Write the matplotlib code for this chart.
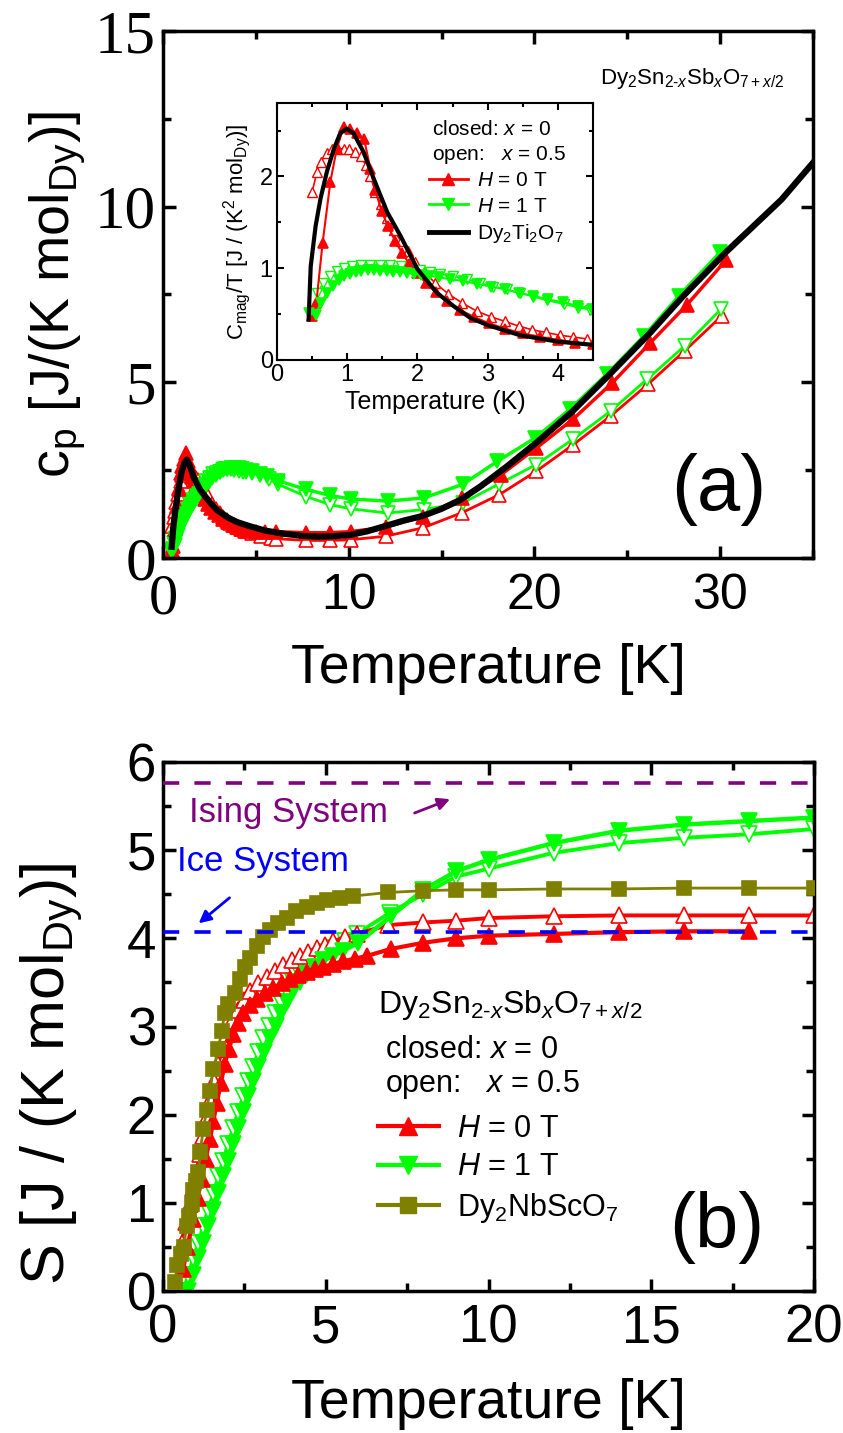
import matplotlib
matplotlib.use('Agg')
import matplotlib.pyplot as plt
from matplotlib.ticker import MultipleLocator
from matplotlib.lines import Line2D

plt.rcParams['font.family'] = 'Liberation Sans'
plt.rcParams['mathtext.fontset'] = 'custom'
plt.rcParams['mathtext.rm'] = 'Liberation Sans'
plt.rcParams['mathtext.it'] = 'Liberation Sans:italic'

RED = '#ff0000'
GREEN = '#00ff00'
OLIVE = '#808000'
PURPLE = '#800080'
BLUE = '#0000ff'

# ---------------- panel (a): c_p vs T ----------------
a_red_closed_T = [0.50, 0.56, 0.65, 0.76, 0.85, 0.95, 1.04, 1.14, 1.24, 1.33, 1.40, 1.49, 1.58, 1.68,
                  1.78, 1.88, 1.99, 2.12, 2.26, 2.42, 2.60, 2.80, 3.02, 3.25, 3.50, 3.75, 4.00, 4.25,
                  4.50, 5.00, 5.50, 6.10, 7.70, 9.00, 10.1, 12.0, 14.0, 16.1, 18.2, 20.1, 22.1, 24.2,
                  26.25, 28.2, 30.3]
a_red_closed_cp = [0.24, 0.35, 0.83, 1.47, 1.96, 2.41, 2.62, 2.82, 2.99, 2.77, 2.59, 2.41, 2.31, 2.18,
                   2.08, 1.97, 1.89, 1.78, 1.67, 1.55, 1.43, 1.32, 1.21, 1.10, 1.02, 0.94, 0.88, 0.82,
                   0.78, 0.75, 0.74, 0.75, 0.72, 0.72, 0.75, 0.88, 1.18, 1.72, 2.37, 3.13, 3.96, 4.99,
                   6.13, 7.20, 8.47]

a_red_open_T = [0.50, 0.57, 0.62, 0.71, 0.79, 0.87, 0.95, 1.03, 1.11, 1.19, 1.27, 1.33, 1.40, 1.48,
                1.57, 1.66, 1.76, 1.86, 1.97, 2.10, 2.25, 2.44, 2.64, 2.85, 3.05, 3.25, 3.44, 3.63,
                3.83, 4.03, 4.22, 4.41, 4.80, 5.30, 5.80, 6.10, 7.70, 9.00, 10.1, 12.0, 14.0, 16.1,
                18.1, 20.1, 22.1, 24.1, 26.1, 28.1, 30.1]
a_red_open_cp = [0.92, 1.17, 1.34, 1.60, 1.82, 2.00, 2.19, 2.37, 2.52, 2.64, 2.69, 2.66, 2.56, 2.52,
                 2.43, 2.36, 2.29, 2.21, 2.11, 2.02, 1.89, 1.76, 1.55, 1.40, 1.28, 1.17, 1.08, 1.00,
                 0.93, 0.87, 0.82, 0.78, 0.70, 0.62, 0.57, 0.55, 0.50, 0.50, 0.52, 0.62, 0.86, 1.29,
                 1.80, 2.47, 3.23, 4.04, 4.94, 5.90, 6.90]

a_green_closed_T = [0.45, 0.55, 0.62, 0.71, 0.80, 0.88, 0.96, 1.04, 1.12, 1.20, 1.29, 1.38, 1.47, 1.56,
                    1.65, 1.75, 1.85, 1.95, 2.05, 2.17, 2.31, 2.47, 2.65, 2.85, 3.05, 3.25, 3.45, 3.65,
                    3.86, 4.07, 4.28, 4.49, 4.80, 5.20, 5.60, 6.20, 7.70, 9.00, 10.1, 12.1, 14.05,
                    16.15, 18.0, 20.05, 21.9, 23.9, 25.9, 27.8, 30.0]
a_green_closed_cp = [0.23, 0.27, 0.38, 0.52, 0.65, 0.77, 0.87, 0.98, 1.08, 1.16, 1.26, 1.35, 1.43, 1.51,
                     1.60, 1.68, 1.76, 1.83, 1.91, 2.00, 2.08, 2.17, 2.28, 2.37, 2.44, 2.50, 2.52, 2.56,
                     2.55, 2.56, 2.53, 2.51, 2.47, 2.40, 2.32, 2.20, 1.95, 1.78, 1.68, 1.62, 1.71,
                     2.10, 2.75, 3.42, 4.23, 5.23, 6.32, 7.47, 8.70]

a_green_open_T = [0.57, 0.66, 0.76, 0.85, 0.95, 1.07, 1.19, 1.33, 1.47, 1.61, 1.76, 1.90, 2.04, 2.18,
                  2.32, 2.51, 2.70, 2.89, 3.08, 3.27, 3.46, 3.65, 3.84, 4.08, 4.29, 4.46, 4.80, 5.20,
                  5.70, 6.20, 7.70, 9.00, 10.1, 12.1, 14.05, 16.15, 18.1, 20.1, 22.1, 24.1, 26.07,
                  28.1, 30.06]
a_green_open_cp = [0.42, 0.55, 0.69, 0.82, 0.95, 1.09, 1.24, 1.38, 1.53, 1.66, 1.80, 1.90, 2.00, 2.09,
                   2.18, 2.28, 2.38, 2.43, 2.46, 2.52, 2.53, 2.52, 2.50, 2.49, 2.45, 2.45, 2.42, 2.36,
                   2.25, 2.10, 1.75, 1.52, 1.40, 1.28, 1.38, 1.57, 2.11, 2.66, 3.39, 4.18, 5.09,
                   6.04, 7.09]

a_dto_T = [0.47, 0.55, 0.65, 0.80, 1.00, 1.15, 1.28, 1.45, 1.65, 2.00, 2.50, 2.90, 3.50, 4.00, 4.70,
           5.50, 6.50, 7.50, 8.30, 9.20, 10.1, 11.0, 11.9, 13.0, 14.0, 15.0, 16.0, 17.1, 18.5, 20.1,
           22.0, 24.0, 26.25, 28.0, 30.3, 33.3, 35.0]
a_dto_cp = [0.32, 0.85, 1.30, 1.85, 2.45, 2.70, 2.80, 2.62, 2.30, 1.94, 1.60, 1.37, 1.15, 1.02, 0.90,
            0.78, 0.69, 0.63, 0.61, 0.62, 0.66, 0.76, 0.90, 1.07, 1.20, 1.40, 1.65, 2.04, 2.60, 3.28,
            4.15, 5.20, 6.42, 7.45, 8.70, 10.20, 11.25]

a_yticks = [0, 5, 10, 15]
a_ytick_labels = ['0', '5', '10', '15']
a_xticks = [0, 10, 20, 30]
a_xtick_labels = ['0', '10', '20', '30']

# ---------------- inset: C_mag/T vs T ----------------
in_red_closed_T = [0.50, 0.56, 0.65, 0.76, 0.85, 0.95, 1.04, 1.14, 1.24, 1.33, 1.40, 1.49, 1.58, 1.68,
                   1.78, 1.88, 1.99, 2.12, 2.26, 2.42, 2.60, 2.80, 3.02, 3.25, 3.50, 3.75, 4.00, 4.25,
                   4.50]
in_red_closed_C = [0.48, 0.62, 1.28, 1.94, 2.30, 2.54, 2.52, 2.47, 2.41, 2.08, 1.85, 1.62, 1.46, 1.30,
                   1.17, 1.05, 0.95, 0.84, 0.74, 0.64, 0.55, 0.47, 0.40, 0.34, 0.29, 0.25, 0.22, 0.19,
                   0.17]

in_red_open_T = [0.50, 0.57, 0.62, 0.71, 0.79, 0.87, 0.95, 1.03, 1.11, 1.19, 1.27, 1.33, 1.40, 1.48,
                 1.57, 1.66, 1.76, 1.86, 1.97, 2.10, 2.25, 2.44, 2.64, 2.85, 3.05, 3.25, 3.44, 3.63,
                 3.83, 4.03, 4.22, 4.41]
in_red_open_C = [1.83, 2.05, 2.16, 2.25, 2.30, 2.30, 2.30, 2.30, 2.27, 2.22, 2.12, 2.00, 1.83, 1.70,
                 1.55, 1.42, 1.30, 1.19, 1.07, 0.96, 0.84, 0.72, 0.62, 0.53, 0.47, 0.42, 0.37, 0.33,
                 0.30, 0.27, 0.25, 0.23]

in_green_closed_T = [0.45, 0.55, 0.62, 0.71, 0.80, 0.88, 0.96, 1.04, 1.12, 1.20, 1.29, 1.38, 1.47, 1.56,
                     1.65, 1.75, 1.85, 1.95, 2.05, 2.17, 2.31, 2.47, 2.65, 2.85, 3.05, 3.25, 3.45, 3.65,
                     3.86, 4.07, 4.28, 4.49]
in_green_closed_C = [0.51, 0.49, 0.62, 0.73, 0.81, 0.87, 0.91, 0.94, 0.96, 0.97, 0.98, 0.98, 0.97, 0.97,
                     0.96, 0.96, 0.95, 0.94, 0.93, 0.92, 0.90, 0.88, 0.86, 0.83, 0.80, 0.77, 0.73, 0.70,
                     0.66, 0.63, 0.59, 0.56]

in_green_open_T = [0.57, 0.66, 0.76, 0.85, 0.95, 1.07, 1.19, 1.33, 1.47, 1.61, 1.76, 1.90, 2.04, 2.18,
                   2.32, 2.51, 2.70, 2.89, 3.08, 3.27, 3.46, 3.65, 3.84, 4.08, 4.29, 4.46]
in_green_open_C = [0.73, 0.84, 0.91, 0.97, 1.00, 1.02, 1.04, 1.04, 1.04, 1.03, 1.02, 1.00, 0.98, 0.96,
                   0.94, 0.91, 0.88, 0.84, 0.80, 0.77, 0.73, 0.69, 0.65, 0.61, 0.57, 0.55]

in_dto_T = [0.45, 0.48, 0.55, 0.62, 0.71, 0.81, 0.90, 0.99, 1.09, 1.23, 1.38, 1.57, 1.76, 2.00, 2.28,
            2.51, 2.75, 3.00, 3.46, 4.00, 4.50]
in_dto_C = [0.44, 1.02, 1.46, 1.76, 2.05, 2.30, 2.47, 2.52, 2.47, 2.27, 1.97, 1.61, 1.35, 0.99, 0.73,
            0.59, 0.46, 0.38, 0.27, 0.20, 0.165]

# ---------------- panel (b): S vs T ----------------
b_olive_T = [0.38, 0.42, 0.55, 0.63, 0.73, 0.80, 0.88, 0.93, 1.00, 1.09, 1.14, 1.24, 1.34, 1.44, 1.55,
             1.70, 1.80, 1.90, 2.01, 2.21, 2.37, 2.52, 2.67, 2.88, 3.08, 3.29, 3.54, 3.80, 4.10, 4.41,
             4.72, 5.03, 5.44, 5.85, 6.92, 8.0, 9.0, 10.0, 12.0, 14.0, 16.0, 18.0, 20.0]
b_olive_S = [0.10, 0.29, 0.42, 0.50, 0.74, 0.85, 0.99, 1.15, 1.25, 1.35, 1.58, 1.84, 2.05, 2.27, 2.52,
             2.74, 2.95, 3.15, 3.25, 3.38, 3.54, 3.68, 3.78, 3.91, 4.01, 4.09, 4.17, 4.23, 4.31, 4.36,
             4.40, 4.43, 4.46, 4.48, 4.52, 4.54, 4.55, 4.55, 4.56, 4.56, 4.57, 4.57, 4.57]

b_red_closed_T = [0.62, 0.75, 0.93, 1.06, 1.19, 1.31, 1.44, 1.55, 1.65, 1.78, 1.90, 2.03, 2.16, 2.31,
                  2.47, 2.67, 2.88, 3.13, 3.39, 3.65, 3.90, 4.15, 4.41, 4.67, 4.93, 5.23, 5.54, 5.90,
                  6.26, 7.0, 8.0, 9.0, 10.0, 12.0, 14.0, 16.0, 18.0]
b_red_closed_S = [0.25, 0.50, 0.82, 1.05, 1.27, 1.50, 1.72, 1.93, 2.13, 2.36, 2.58, 2.75, 2.91, 3.04,
                  3.15, 3.24, 3.31, 3.38, 3.44, 3.49, 3.54, 3.58, 3.62, 3.65, 3.68, 3.71, 3.74, 3.77,
                  3.80, 3.88, 3.95, 4.00, 4.03, 4.05, 4.07, 4.08, 4.08]

b_red_open_T = [0.57, 0.70, 0.83, 0.93, 1.03, 1.13, 1.24, 1.34, 1.44, 1.57, 1.70, 1.83, 1.96, 2.13,
                2.31, 2.49, 2.67, 2.92, 3.18, 3.44, 3.70, 3.95, 4.21, 4.47, 4.72, 4.98, 5.23, 5.60,
                5.95, 6.92, 8.0, 9.0, 10.0, 12.0, 14.0, 16.0, 18.0, 20.0]
b_red_open_S = [0.54, 0.78, 0.99, 1.17, 1.35, 1.55, 1.76, 1.97, 2.17, 2.38, 2.58, 2.75, 2.91, 3.06,
                3.19, 3.30, 3.40, 3.49, 3.56, 3.63, 3.70, 3.75, 3.80, 3.85, 3.89, 3.93, 3.97, 4.01,
                4.05, 4.15, 4.18, 4.20, 4.23, 4.25, 4.26, 4.26, 4.26, 4.26]

b_green_closed_T = [0.77, 0.93, 1.09, 1.24, 1.39, 1.55, 1.70, 1.85, 2.00, 2.16, 2.31, 2.47, 2.62, 2.77,
                    2.93, 3.11, 3.29, 3.46, 3.64, 3.82, 4.00, 4.21, 4.41, 4.67, 4.93, 5.23, 5.54, 6.0,
                    7.0, 8.0, 9.0, 10.0, 12.0, 14.0, 16.0, 18.0, 20.0]
b_green_closed_S = [0.00, 0.18, 0.37, 0.55, 0.74, 0.92, 1.11, 1.30, 1.48, 1.67, 1.85, 2.03, 2.21, 2.38,
                    2.54, 2.71, 2.87, 3.01, 3.15, 3.28, 3.40, 3.50, 3.60, 3.68, 3.75, 3.80, 3.86, 3.95,
                    4.25, 4.55, 4.76, 4.89, 5.08, 5.22, 5.29, 5.33, 5.37]

b_green_open_T = [0.62, 0.78, 0.93, 1.09, 1.24, 1.39, 1.55, 1.70, 1.85, 2.00, 2.16, 2.31, 2.47, 2.62,
                  2.77, 2.93, 3.08, 3.26, 3.44, 3.62, 3.80, 4.00, 4.21, 4.47, 4.72, 4.98, 5.23, 5.60,
                  5.95, 6.97, 8.0, 9.0, 10.0, 12.0, 14.0, 16.0, 18.0, 20.0]
b_green_open_S = [0.00, 0.18, 0.37, 0.55, 0.74, 0.92, 1.11, 1.30, 1.48, 1.67, 1.85, 2.03, 2.21, 2.38,
                  2.54, 2.71, 2.87, 3.01, 3.15, 3.28, 3.40, 3.50, 3.60, 3.69, 3.77, 3.84, 3.89, 3.97,
                  4.05, 4.29, 4.50, 4.70, 4.79, 4.97, 5.08, 5.14, 5.18, 5.24]

S_ising = 5.76
S_ice = 4.07

formula = r'Dy$_2$Sn$_{2\text{-}\mathit{x}}$Sb$_{\mathit{x}}$O$_{7+\mathit{x}/2}$'


def series(ax, T, y, color, marker, filled, lw, ms, mew=1.2, z=2):
    ax.plot(T, y, color=color, lw=lw, marker=marker, ms=ms,
            mfc=color if filled else 'white', mec=color, mew=mew, zorder=z)


def frame(ax, lw, maj, mino):
    for s in ax.spines.values():
        s.set_linewidth(lw)
    ax.tick_params(which='both', direction='in', top=True, right=True, width=lw)
    ax.tick_params(which='major', length=maj)
    ax.tick_params(which='minor', length=mino)


fig = plt.figure(figsize=(8.43, 14.33), dpi=100)
W, H = 843.0, 1433.0

# ---------------- panel (a) ----------------
ax1 = fig.add_axes([163 / W, 1 - 558 / H, 650 / W, 527 / H])
series(ax1, a_red_open_T, a_red_open_cp, RED, '^', False, 2.0, 10)
series(ax1, a_green_open_T, a_green_open_cp, GREEN, 'v', False, 2.0, 10)
series(ax1, a_red_closed_T, a_red_closed_cp, RED, '^', True, 2.5, 10)
series(ax1, a_green_closed_T, a_green_closed_cp, GREEN, 'v', True, 2.5, 10)
ax1.plot(a_dto_T, a_dto_cp, color='black', lw=4.5, zorder=3)
ax1.set_xlim(0, 35)
ax1.set_ylim(0, 15)
ax1.set_xticks(a_xticks)
ax1.set_yticks(a_yticks)
ax1.set_yticklabels(a_ytick_labels, fontfamily='Liberation Serif', fontsize=44)
ax1.set_xticklabels(a_xtick_labels, fontsize=36)
ax1.get_xticklabels()[0].set_fontfamily('Liberation Serif')
ax1.get_xticklabels()[0].set_fontsize(42)
ax1.xaxis.set_minor_locator(MultipleLocator(5))
ax1.yaxis.set_minor_locator(MultipleLocator(2.5))
frame(ax1, 2.5, 9, 6)
ax1.tick_params(axis='x', pad=11)
ax1.tick_params(axis='y', pad=5)
ax1.set_xlabel('Temperature [K]', fontsize=40, labelpad=13)
ax1.set_ylabel(r'c$_\mathrm{p}$ [J/(K mol$_\mathrm{Dy}$)]', fontsize=40, labelpad=5)
ax1.text(0.957, 0.91, formula, transform=ax1.transAxes, ha='right', va='center', fontsize=16)
ax1.text(0.855, 0.13, '(a)', transform=ax1.transAxes, ha='center', va='center', fontsize=56)

# ---------------- inset ----------------
axin = fig.add_axes([277 / W, 1 - 360 / H, 316 / W, 257 / H])
series(axin, in_red_open_T, in_red_open_C, RED, '^', False, 1.2, 7, mew=1.0)
series(axin, in_green_open_T, in_green_open_C, GREEN, 'v', False, 1.2, 7, mew=1.0)
series(axin, in_red_closed_T, in_red_closed_C, RED, '^', True, 1.5, 7)
series(axin, in_green_closed_T, in_green_closed_C, GREEN, 'v', True, 1.5, 7)
axin.plot(in_dto_T, in_dto_C, color='black', lw=3, zorder=3)
axin.set_xlim(0, 4.5)
axin.set_ylim(0, 2.8)
axin.xaxis.set_major_locator(MultipleLocator(1))
axin.xaxis.set_minor_locator(MultipleLocator(0.5))
axin.yaxis.set_major_locator(MultipleLocator(1))
axin.yaxis.set_minor_locator(MultipleLocator(0.5))
frame(axin, 1.5, 5, 3)
axin.tick_params(labelsize=17, pad=3)
axin.set_xlabel('Temperature (K)', fontsize=18, labelpad=3)
axin.set_ylabel(r'C$_\mathrm{mag}$/T [J / (K$^2$ mol$_\mathrm{Dy}$)]', fontsize=16, labelpad=5)
axin.text(0.49, 0.895, r'closed: $x$ = 0', transform=axin.transAxes, fontsize=15, va='center')
axin.text(0.49, 0.798, r'open:   $x$ = 0.5', transform=axin.transAxes, fontsize=15, va='center')
h_in = [Line2D([], [], color=RED, lw=2, marker='^', ms=8, mfc=RED),
        Line2D([], [], color=GREEN, lw=2, marker='v', ms=8, mfc=GREEN),
        Line2D([], [], color='black', lw=3.5)]
axin.legend(h_in, [r'$H$ = 0 T', r'$H$ = 1 T', r'Dy$_2$Ti$_2$O$_7$'], loc='upper left',
            bbox_to_anchor=(0.48, 0.735), frameon=False, fontsize=15, handlelength=1.9,
            handletextpad=0.4, labelspacing=0.32, borderpad=0, borderaxespad=0)

# ---------------- panel (b) ----------------
ax2 = fig.add_axes([163 / W, 1 - 1291 / H, 651 / W, 529 / H])
series(ax2, b_green_open_T, b_green_open_S, GREEN, 'v', False, 2.8, 11)
series(ax2, b_red_open_T, b_red_open_S, RED, '^', False, 2.8, 11)
series(ax2, b_green_closed_T, b_green_closed_S, GREEN, 'v', True, 3.2, 11)
series(ax2, b_red_closed_T, b_red_closed_S, RED, '^', True, 3.0, 11)
series(ax2, b_olive_T, b_olive_S, OLIVE, 's', True, 2.0, 10, z=3)
ax2.axhline(S_ising, color=PURPLE, lw=2.6, dashes=(4.5, 4.2), zorder=4)
ax2.axhline(S_ice, color=BLUE, lw=2.6, dashes=(4.5, 4.2), zorder=4)
ax2.set_xlim(0, 20)
ax2.set_ylim(0, 6)
ax2.xaxis.set_major_locator(MultipleLocator(5))
ax2.xaxis.set_minor_locator(MultipleLocator(2.5))
ax2.yaxis.set_major_locator(MultipleLocator(1))
ax2.yaxis.set_minor_locator(MultipleLocator(0.5))
frame(ax2, 2.5, 9, 6)
ax2.tick_params(labelsize=38)
ax2.tick_params(axis='x', pad=9)
ax2.tick_params(axis='y', pad=5)
ax2.set_xlabel('Temperature [K]', fontsize=40, labelpad=18)
ax2.set_ylabel(r'S [J / (K mol$_\mathrm{Dy}$)]', fontsize=44)
ax2.yaxis.set_label_coords(-0.12, 0.41)
ax2.text(0.04, 0.905, 'Ising System', color=PURPLE, transform=ax2.transAxes, fontsize=25,
         va='center')
ax2.text(0.022, 0.811, 'Ice System', color=BLUE, transform=ax2.transAxes, fontsize=25,
         va='center')
ax2.annotate('', xy=(8.9, 5.59), xytext=(7.65, 5.41),
             arrowprops=dict(arrowstyle='-|>', color=PURPLE, lw=2, mutation_scale=18))
ax2.annotate('', xy=(1.03, 4.15), xytext=(2.11, 4.48),
             arrowprops=dict(arrowstyle='-|>', color=BLUE, lw=2, mutation_scale=18))
ax2.text(0.33, 0.54, formula, transform=ax2.transAxes, fontsize=23, va='center')
ax2.text(0.341, 0.455, r'closed: $x$ = 0', transform=ax2.transAxes, fontsize=22, va='center')
ax2.text(0.341, 0.39, r'open:   $x$ = 0.5', transform=ax2.transAxes, fontsize=22, va='center')
h_b = [Line2D([], [], color=RED, lw=3, marker='^', ms=13, mfc=RED),
       Line2D([], [], color=GREEN, lw=3, marker='v', ms=13, mfc=GREEN),
       Line2D([], [], color=OLIVE, lw=3, marker='s', ms=11, mfc=OLIVE)]
ax2.legend(h_b, [r'$H$ = 0 T', r'$H$ = 1 T', r'Dy$_2$NbScO$_7$'], loc='upper left',
           bbox_to_anchor=(0.33, 0.335), frameon=False, fontsize=22, handlelength=2.0,
           handletextpad=0.6, labelspacing=0.28, borderpad=0, borderaxespad=0)
ax2.text(0.851, 0.12, '(b)', transform=ax2.transAxes, ha='center', va='center', fontsize=56)

fig.savefig('out.png', dpi=100)
